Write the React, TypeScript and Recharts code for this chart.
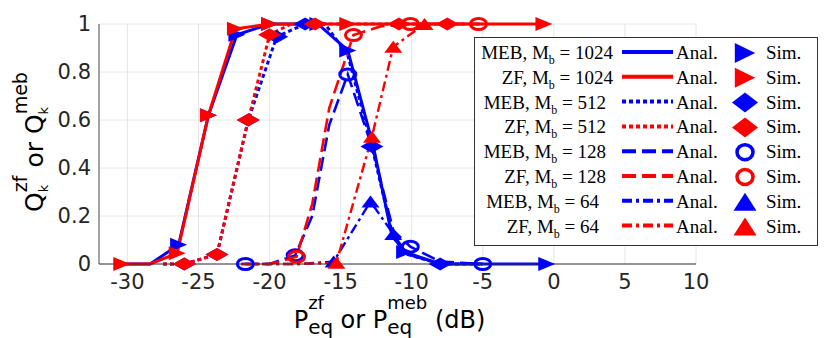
import React from 'react';
import { ComposedChart, Line, XAxis, YAxis, CartesianGrid, Legend, Label } from 'recharts';

// ---------- tick labels ----------
const xTicks = [-30, -25, -20, -15, -10, -5, 0, 5, 10];
const yTicks = [0, 0.2, 0.4, 0.6, 0.8, 1];

// ---------- analytical curves ----------
const meb1024X = [-30.4, -28.4, -26.4, -24.3, -22.3, -20.0, -18.3, -16.6, -14.5, -12.7, -11.4, -10.5, -8.0, -5.0, -0.5];
const meb1024Y = [0, 0, 0.08, 0.62, 0.955, 1, 1, 1, 0.89, 0.49, 0.12, 0.05, 0, 0, 0];
const zf1024X = [-30.4, -28.4, -26.5, -24.3, -22.4, -20.0, -18.3, -16.6, -14.5, -0.7];
const zf1024Y = [0, 0, 0.045, 0.62, 0.98, 1, 1, 1, 1, 1];
const meb512X = [-27.5, -26.0, -23.7, -21.5, -19.5, -17.5, -16.1, -14.5, -12.8, -11.3, -10.3, -8.0, -5.0];
const meb512Y = [0, 0, 0.04, 0.6, 0.947, 1, 1, 0.87, 0.49, 0.11, 0.04, 0, 0];
const zf512X = [-27.5, -26.0, -23.7, -21.5, -20.0, -18.5, -16.8, -10.9, -7.5, -5.0];
const zf512Y = [0, 0, 0.04, 0.6, 0.955, 1, 1, 1, 1, 1];
const meb128X = [-21.7, -20.0, -18.2, -17.0, -15.8, -14.5, -12.7, -11.3, -10.1, -8.0, -5.0];
const meb128Y = [0, 0, 0.036, 0.2, 0.58, 0.79, 0.47, 0.14, 0.072, 0.01, 0];
const zf128X = [-21.7, -20.0, -18.1, -17.0, -15.8, -14.1, -12.2, -10.1, -5.3];
const zf128Y = [0, 0, 0.03, 0.25, 0.65, 0.954, 0.99, 1, 1];
const meb64X = [-22.0, -18.0, -15.5, -12.9, -11.3, -10.3, -8.0, -5.0];
const meb64Y = [0, 0, 0.01, 0.26, 0.125, 0.04, 0, 0];
const zf64X = [-22.0, -18.0, -15.3, -12.8, -11.3, -9.1, -5.0];
const zf64Y = [0, 0, 0.005, 0.53, 0.905, 1, 1];

// ---------- simulation markers ----------
const meb1024SimX = [-26.4, -24.3, -22.3, -20.0, -16.6, -14.5, -10.5, -0.5];
const meb1024SimY = [0.08, 0.62, 0.955, 1, 1, 0.89, 0.05, 0];
const zf1024SimX = [-30.4, -26.5, -24.3, -22.4, -20.0, -14.5, -0.7];
const zf1024SimY = [0, 0.045, 0.62, 0.98, 1, 1, 1];
const meb512SimX = [-26.0, -23.7, -21.5, -19.5, -17.5, -12.8, -8.0];
const meb512SimY = [0, 0.04, 0.6, 0.947, 1, 0.49, 0];
const zf512SimX = [-26.0, -23.7, -21.5, -20.0, -16.8, -10.9, -7.5];
const zf512SimY = [0, 0.04, 0.6, 0.955, 1, 1, 1];
const meb128SimX = [-21.7, -18.2, -14.5, -10.1, -5.0];
const meb128SimY = [0, 0.036, 0.79, 0.072, 0];
const zf128SimX = [-18.1, -14.1, -10.1, -5.3];
const zf128SimY = [0.03, 0.954, 1, 1];
const meb64SimX = [-15.5, -12.9, -11.3];
const meb64SimY = [0.01, 0.26, 0.125];
const zf64SimX = [-15.3, -12.8, -11.3, -9.1];
const zf64SimY = [0.005, 0.53, 0.905, 1];

const seriesNames = ['MEB', 'ZF', 'MEB', 'ZF', 'MEB', 'ZF', 'MEB', 'ZF'];
const seriesM = ['1024', '1024', '512', '512', '128', '128', '64', '64'];

const BLUE = '#0000FF';
const RED = '#FF0000';

const zip = (xs: number[], ys: number[]) => xs.map((x, i) => ({ x, y: ys[i] }));

type Kind = 'right' | 'diamond' | 'circle' | 'up';

const styles = [
  { color: BLUE, dash: undefined as string | undefined, width: 3, kind: 'right' as Kind },
  { color: RED, dash: undefined as string | undefined, width: 3, kind: 'right' as Kind },
  { color: BLUE, dash: '4 3', width: 3, kind: 'diamond' as Kind },
  { color: RED, dash: '4 3', width: 3, kind: 'diamond' as Kind },
  { color: BLUE, dash: '14 6', width: 2.6, kind: 'circle' as Kind },
  { color: RED, dash: '14 6', width: 2.6, kind: 'circle' as Kind },
  { color: BLUE, dash: '10 4 3 4', width: 2.4, kind: 'up' as Kind },
  { color: RED, dash: '10 4 3 4', width: 2.4, kind: 'up' as Kind },
];

const analytic = [
  zip(meb1024X, meb1024Y), zip(zf1024X, zf1024Y),
  zip(meb512X, meb512Y), zip(zf512X, zf512Y),
  zip(meb128X, meb128Y), zip(zf128X, zf128Y),
  zip(meb64X, meb64Y), zip(zf64X, zf64Y),
];
const sim = [
  zip(meb1024SimX, meb1024SimY), zip(zf1024SimX, zf1024SimY),
  zip(meb512SimX, meb512SimY), zip(zf512SimX, zf512SimY),
  zip(meb128SimX, meb128SimY), zip(zf128SimX, zf128SimY),
  zip(meb64SimX, meb64SimY), zip(zf64SimX, zf64SimY),
];

function Marker({ kind, cx, cy, color, big }: { kind: Kind; cx: number; cy: number; color: string; big?: boolean }) {
  const k = big ? 1.2 : 1;
  if (kind === 'right') {
    const w = 8.5 * k, h = (big ? 10 : 7);
    return <polygon points={`${cx - w},${cy - h} ${cx + w},${cy} ${cx - w},${cy + h}`} fill={color} />;
  }
  if (kind === 'diamond') {
    const w = big ? 13 : 11.5, h = big ? 10 : 6.5;
    return <polygon points={`${cx - w},${cy} ${cx},${cy - h} ${cx + w},${cy} ${cx},${cy + h}`} fill={color} />;
  }
  if (kind === 'circle') {
    return <ellipse cx={cx} cy={cy} rx={big ? 8 : 8} ry={big ? 7.5 : 5.5} fill="none" stroke={color} strokeWidth={big ? 3.5 : 3} />;
  }
  const w = big ? 11.5 : 9, h = big ? 9 : 6;
  return <polygon points={`${cx - w},${cy + h} ${cx},${cy - h} ${cx + w},${cy + h}`} fill={color} />;
}

const FONT = 'DejaVu Sans';
const SERIF = 'Liberation Serif, Times New Roman, serif';

function LegendBox() {
  const W = 344, H = 209;
  return (
    <svg width={W} height={H} style={{ display: 'block' }}>
      <rect x={0.5} y={0.5} width={W - 1} height={H - 1} fill="#fff" stroke="#333" strokeWidth={1} />
      {styles.map((s, i) => {
        const cy = 16 + i * 24.8;
        const endX = 139 - (4 - seriesM[i].length) * 7;
        return (
          <g key={i}>
            <text x={endX} y={cy + 6} textAnchor="end" fontFamily={SERIF} fontSize={19} fill="#000">
              {seriesNames[i]}, M<tspan fontSize={12} dy={5}>b</tspan><tspan dy={-5}> = {seriesM[i]}</tspan>
            </text>
            <line x1={148} x2={199} y1={cy - 1} y2={cy - 1} stroke={s.color} strokeWidth={4} strokeDasharray={s.dash} />
            <text x={202} y={cy + 6} fontFamily={SERIF} fontSize={19} fill="#000">Anal.</text>
            <Marker kind={s.kind} cx={271} cy={cy} color={s.color} big />
            <text x={292} y={cy + 6} fontFamily={SERIF} fontSize={19} fill="#000">Sim.</text>
          </g>
        );
      })}
    </svg>
  );
}

function XLabel(props: any) {
  const vb = props.viewBox || { x: 99, y: 264, width: 597, height: 74 };
  const cx = vb.x + vb.width / 2 - 8;
  const by = vb.y + 64;
  return (
    <text x={cx} y={by} textAnchor="middle" fontFamily={FONT} fontSize={24} fill="#000">
      P
      <tspan fontSize={20} dy={6}>eq</tspan>
      <tspan fontSize={18} dx={-25} dy={-25}>zf</tspan>
      <tspan fontSize={24} dx={9} dy={19}> or P</tspan>
      <tspan fontSize={20} dy={6}>eq</tspan>
      <tspan fontSize={18} dx={-25} dy={-25}>meb</tspan>
      <tspan fontSize={24} dy={19}>  (dB)</tspan>
    </text>
  );
}

function YLabel(props: any) {
  const vb = props.viewBox || { x: 0, y: 24, width: 99, height: 240 };
  const cy = vb.y + vb.height / 2 - 2;
  const cx = 43;
  return (
    <text x={cx} y={cy} textAnchor="middle" fontFamily={FONT} fontSize={25} fill="#000" transform={`rotate(-90, ${cx}, ${cy})`}>
      Q
      <tspan fontSize={13} dy={5}>k</tspan>
      <tspan fontSize={19} dx={-7.5} dy={-21}>zf</tspan>
      <tspan fontSize={25} dy={16}> or Q</tspan>
      <tspan fontSize={13} dy={5}>k</tspan>
      <tspan fontSize={19} dx={-7.5} dy={-21}>meb</tspan>
    </text>
  );
}

const fmtX = (v: number) => (v < 0 ? '-' + Math.abs(v) : String(v));

export default function App() {
  return (
    <div style={{ position: 'absolute', left: 0, top: 0, width: 830, height: 338, background: '#fff' }}>
      <ComposedChart width={830} height={338} margin={{ top: 24, right: 134, bottom: 0, left: 0 }}>
        <CartesianGrid stroke="#e6e6e6" strokeWidth={1} />
        <XAxis
          type="number"
          dataKey="x"
          domain={[-32, 10]}
          ticks={xTicks}
          allowDataOverflow
          height={74}
          tickLine={false}
          tickMargin={4}
          tickFormatter={fmtX}
          tick={{ fontSize: 21, fill: '#262626', fontFamily: FONT }}
          axisLine={{ stroke: '#333', strokeWidth: 1 }}
        >
          <Label content={XLabel} />
        </XAxis>
        <XAxis xAxisId="top" orientation="top" type="number" domain={[-32, 10]} height={0} tick={false} tickLine={false} axisLine={{ stroke: '#888', strokeWidth: 1.5 }} />
        <YAxis
          type="number"
          domain={[0, 1]}
          ticks={yTicks}
          width={99}
          tickLine={false}
          tickMargin={2}
          tickFormatter={(v: number) => String(v)}
          tick={{ fontSize: 21, fill: '#262626', fontFamily: FONT }}
          axisLine={{ stroke: '#555', strokeWidth: 1 }}
        >
          <Label content={YLabel} />
        </YAxis>
        <YAxis yAxisId="right" orientation="right" type="number" domain={[0, 1]} width={0} tick={false} tickLine={false} axisLine={{ stroke: '#333', strokeWidth: 1 }} />
        <Legend
          layout="horizontal"
          verticalAlign="middle"
          align="center"
          content={() => <LegendBox />}
          wrapperStyle={{ position: 'absolute', left: 474, top: 37, width: 344, height: 209 }}
        />
        {styles.map((s, i) => (
          <Line
            key={`a${i}`}
            data={analytic[i]}
            dataKey="y"
            type="linear"
            stroke={s.color}
            strokeWidth={s.width}
            strokeDasharray={s.dash}
            dot={false}
            activeDot={false}
            isAnimationActive={false}
            legendType="none"
          />
        ))}
        {styles.map((s, i) => (
          <Line
            key={`s${i}`}
            data={sim[i]}
            dataKey="y"
            stroke="none"
            strokeWidth={0}
            dot={(p: any) => <Marker key={`m${i}-${p.index}`} kind={s.kind} cx={p.cx} cy={p.cy} color={s.color} />}
            activeDot={false}
            isAnimationActive={false}
            legendType="none"
          />
        ))}
      </ComposedChart>
    </div>
  );
}
